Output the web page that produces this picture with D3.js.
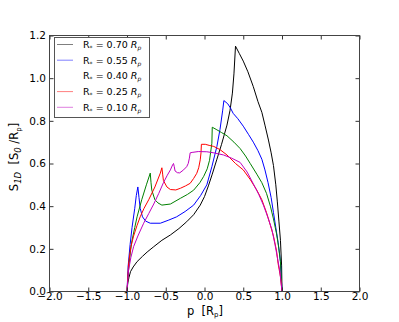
<!DOCTYPE html>
<html>
<head>
<meta charset="utf-8">
<script src="https://cdn.jsdelivr.net/npm/d3@7"></script>
<style>
  body { margin: 0; background: #fff; }
  svg { font-family: "DejaVu Sans", sans-serif; }
  text { white-space: pre; }
</style>
</head>
<body>
<svg id="chart" width="399" height="322"></svg>
<script>
// series values: [p, S_1D]
const rs70 = [[-1,0],[-0.99,0.04],[-0.975,0.065],[-0.955,0.093],[-0.92,0.115],[-0.87,0.14],[-0.80,0.165],[-0.74,0.185],[-0.655,0.21],[-0.55,0.24],
  [-0.44,0.265],[-0.33,0.295],[-0.23,0.327],[-0.14,0.36],[-0.055,0.405],[0.0,0.445],[0.05,0.495],[0.10,0.55],[0.16,0.62],[0.22,0.69],
  [0.29,0.78],[0.33,0.85],[0.36,0.93],[0.38,1.02],[0.40,1.15],[0.45,1.115],[0.50,1.08],[0.56,1.03],[0.63,0.96],[0.69,0.89],
  [0.74,0.84],[0.78,0.78],[0.825,0.71],[0.86,0.65],[0.89,0.59],[0.92,0.50],[0.94,0.42],[0.96,0.33],[0.98,0.24],[0.995,0.12],[1,0]];
const rs55 = [[-1,0],[-0.985,0.12],[-0.96,0.22],[-0.935,0.30],[-0.90,0.39],[-0.88,0.45],[-0.86,0.49],[-0.845,0.44],[-0.83,0.39],[-0.80,0.35],
  [-0.76,0.33],[-0.70,0.32],[-0.57,0.32],[-0.46,0.335],[-0.36,0.35],[-0.25,0.375],[-0.14,0.405],[-0.05,0.45],[0.03,0.50],[0.095,0.585],
  [0.16,0.68],[0.20,0.76],[0.235,0.85],[0.25,0.895],[0.30,0.88],[0.335,0.86],[0.37,0.835],[0.43,0.81],[0.50,0.775],[0.57,0.735],
  [0.63,0.70],[0.69,0.66],[0.74,0.62],[0.78,0.57],[0.82,0.51],[0.86,0.44],[0.89,0.37],[0.92,0.30],[0.95,0.23],[0.98,0.14],[1,0]];
const rs40 = [[-1,0],[-0.98,0.10],[-0.955,0.19],[-0.935,0.24],[-0.90,0.30],[-0.87,0.35],[-0.81,0.43],[-0.75,0.50],[-0.70,0.555],[-0.69,0.51],
  [-0.68,0.475],[-0.64,0.43],[-0.60,0.415],[-0.55,0.405],[-0.44,0.41],[-0.31,0.437],[-0.22,0.455],[-0.14,0.475],[-0.06,0.51],[-0.01,0.54],
  [0.035,0.575],[0.065,0.615],[0.095,0.695],[0.10,0.77],[0.15,0.76],[0.22,0.745],[0.29,0.73],[0.38,0.70],[0.46,0.67],[0.53,0.635],
  [0.59,0.60],[0.675,0.55],[0.74,0.51],[0.80,0.46],[0.85,0.40],[0.89,0.34],[0.93,0.27],[0.96,0.20],[0.98,0.14],[1,0]];
const rs25 = [[-1,0],[-0.98,0.13],[-0.95,0.21],[-0.915,0.26],[-0.87,0.31],[-0.83,0.35],[-0.78,0.39],[-0.72,0.43],[-0.64,0.49],[-0.57,0.555],
  [-0.55,0.58],[-0.54,0.55],[-0.53,0.52],[-0.485,0.49],[-0.44,0.478],[-0.37,0.476],[-0.31,0.484],[-0.245,0.495],[-0.185,0.507],[-0.14,0.53],
  [-0.10,0.554],[-0.075,0.58],[-0.055,0.617],[-0.045,0.65],[-0.04,0.69],[0.01,0.69],[0.06,0.685],[0.12,0.68],[0.20,0.665],[0.29,0.64],
  [0.40,0.60],[0.50,0.57],[0.59,0.525],[0.675,0.475],[0.74,0.43],[0.80,0.37],[0.85,0.31],[0.89,0.26],[0.93,0.19],[0.95,0.13],[0.98,0.07],[1,0]];
const rs10 = [[-1,0],[-0.98,0.10],[-0.95,0.16],[-0.915,0.21],[-0.86,0.26],[-0.785,0.32],[-0.72,0.365],[-0.655,0.41],[-0.59,0.46],[-0.53,0.51],
  [-0.48,0.545],[-0.44,0.57],[-0.41,0.595],[-0.40,0.60],[-0.39,0.585],[-0.38,0.565],[-0.35,0.557],[-0.32,0.556],[-0.27,0.57],[-0.23,0.585],
  [-0.21,0.60],[-0.195,0.625],[-0.185,0.65],[-0.16,0.652],[-0.08,0.656],[0.03,0.655],[0.12,0.65],[0.245,0.64],[0.35,0.625],[0.46,0.605],
  [0.55,0.56],[0.63,0.505],[0.70,0.455],[0.76,0.405],[0.82,0.345],[0.87,0.29],[0.91,0.22],[0.94,0.16],[0.97,0.10],[1,0]];

const seriesData = [rs70, rs55, rs40, rs25, rs10];
const seriesLabels = ["0.70", "0.55", "0.40", "0.25", "0.10"];
const seriesColors = ["#000000", "#0000ff", "#008000", "#ff0000", "#c000c0"];
const xTicks = [-2, -1.5, -1, -0.5, 0, 0.5, 1, 1.5, 2];
const yTicks = [0, 0.2, 0.4, 0.6, 0.8, 1.0, 1.2];

const svg = d3.select('#chart');
const plot = {left: 49.5, right: 359.5, top: 35.5, bottom: 291.5};

const xScale = d3.scaleLinear().domain([-2, 2]).range([plot.left, plot.right]);
const yScale = d3.scaleLinear().domain([0, 1.2]).range([plot.bottom, plot.top]);
const fmt = d3.format(".1f");

// curves
const line = d3.line()
  .x(d => xScale(d[0]))
  .y(d => yScale(d[1]));

svg.append('g')
  .selectAll('path')
  .data(seriesData)
  .enter()
  .append('path')
    .attr('d', line)
    .attr('fill', 'none')
    .attr('stroke', (d, i) => seriesColors[i])
    .attr('stroke-width', 1)
    .attr('stroke-linejoin', 'round');

// axes, ticks pointing inward on all four sides
function styleAxis(g) {
  g.select('.domain').remove();
  g.selectAll('line').attr('stroke', '#333');
  g.selectAll('text').attr('fill', '#000').attr('font-size', 10.5)
    .attr('font-family', '"DejaVu Sans", sans-serif');
}

svg.append('g')
  .attr('transform', 'translate(0,' + plot.bottom + ')')
  .call(d3.axisBottom(xScale).tickValues(xTicks).tickFormat(fmt).tickSizeInner(-4).tickSizeOuter(0).tickPadding(1.5))
  .call(styleAxis);
svg.append('g')
  .attr('transform', 'translate(0,' + plot.top + ')')
  .call(d3.axisTop(xScale).tickValues(xTicks).tickFormat('').tickSizeInner(-4).tickSizeOuter(0))
  .call(styleAxis);
svg.append('g')
  .attr('transform', 'translate(' + plot.left + ',0)')
  .call(d3.axisLeft(yScale).tickValues(yTicks).tickFormat(fmt).tickSizeInner(-4).tickSizeOuter(0).tickPadding(3.5))
  .call(styleAxis);
svg.append('g')
  .attr('transform', 'translate(' + plot.right + ',0)')
  .call(d3.axisRight(yScale).tickValues(yTicks).tickFormat('').tickSizeInner(-4).tickSizeOuter(0))
  .call(styleAxis);

// frame
svg.append('rect')
  .attr('x', plot.left)
  .attr('y', plot.top)
  .attr('width', plot.right - plot.left)
  .attr('height', plot.bottom - plot.top)
  .attr('fill', 'none')
  .attr('stroke', '#444')
  .attr('stroke-width', 1);

// x axis title
let xt = svg.append('text')
  .attr('x', 205)
  .attr('y', 315)
  .attr('text-anchor', 'middle')
  .attr('font-size', 11.5);
xt.append('tspan').text('p  [R');
xt.append('tspan').attr('font-size', 7).attr('dy', 2).text('p');
xt.append('tspan').attr('dy', -2).text(']');

// y axis title
let yt = svg.append('text')
  .attr('transform', 'translate(18,157) rotate(-90)')
  .attr('text-anchor', 'middle')
  .attr('font-size', 11.5);
yt.append('tspan').text('S');
yt.append('tspan').attr('font-size', 8.5).attr('font-style', 'italic').attr('dy', 2.5).text('1D');
yt.append('tspan').attr('dy', -2.5).text('  [S');
yt.append('tspan').attr('font-size', 8.5).attr('font-style', 'italic').attr('dy', 2.5).text('0');
yt.append('tspan').attr('dy', -2.5).text(' /R');
yt.append('tspan').attr('font-size', 7).attr('dy', 2.5).text('p');
yt.append('tspan').attr('dy', -2.5).text(']');

// legend
const legend = svg.append('g');
legend.append('rect')
  .attr('x', 54.5)
  .attr('y', 37.5)
  .attr('width', 95)
  .attr('height', 80)
  .attr('fill', '#fff')
  .attr('stroke', '#555')
  .attr('stroke-width', 1);

seriesLabels.forEach((lab, i) => {
  let yy = 44.5 + i * 15.7;
  if (i !== 2) {
    legend.append('line')
      .attr('x1', 57).attr('x2', 73)
      .attr('y1', yy).attr('y2', yy)
      .attr('stroke', seriesColors[i])
      .attr('stroke-opacity', 0.5)
      .attr('stroke-width', 1);
  }
  let t = legend.append('text')
    .attr('x', 83)
    .attr('y', yy + 3.3)
    .attr('font-size', 9.5);
  t.append('tspan').text('R');
  t.append('tspan').attr('font-size', 6).attr('dy', 2).text('*');
  t.append('tspan').attr('dy', -2).text(' = ' + lab + ' ');
  t.append('tspan').attr('font-style', 'italic').text('R');
  t.append('tspan').attr('font-size', 6).attr('font-style', 'italic').attr('dy', 2).text('p');
});
</script>
</body>
</html>
